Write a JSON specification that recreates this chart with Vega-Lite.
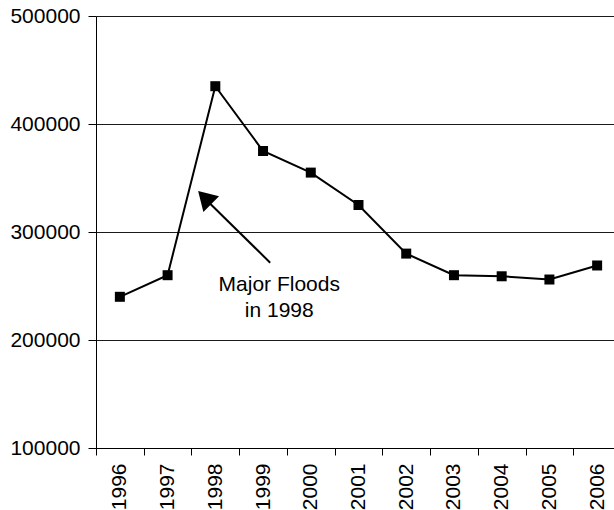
{
  "$schema": "https://vega.github.io/schema/vega-lite/v6.json",
  "autosize": {"type": "none"},
  "padding": {"left": 96, "top": 16, "right": 0, "bottom": 62},
  "width": 518,
  "height": 432,
  "background": "white",
  "config": {
    "view": {"stroke": null},
    "font": "Liberation Sans",
    "axis": {
      "labelFont": "Liberation Sans",
      "labelFontSize": 21,
      "labelColor": "#000",
      "domainColor": "#000",
      "domainWidth": 1,
      "tickColor": "#000",
      "tickWidth": 1
    }
  },
  "datasets": {
    "series": [
      {"year": "1996", "value": 240000},
      {"year": "1997", "value": 260000},
      {"year": "1998", "value": 435000},
      {"year": "1999", "value": 375000},
      {"year": "2000", "value": 355000},
      {"year": "2001", "value": 325000},
      {"year": "2002", "value": 280000},
      {"year": "2003", "value": 260000},
      {"year": "2004", "value": 259000},
      {"year": "2005", "value": 256000},
      {"year": "2006", "value": 269000}
    ],
    "arrowShaft": [
      {"x": 1999.15, "y": 271600, "x2": 1997.85, "y2": 328000}
    ],
    "arrowHead": [
      {"x": 1997.64, "y": 338000}
    ],
    "note": [
      {"label": "Major Floods", "x": 1999.34, "y": 245650},
      {"label": "in 1998", "x": 1999.34, "y": 221000}
    ]
  },
  "layer": [
    {
      "data": {"name": "series"},
      "encoding": {
        "x": {
          "field": "year",
          "type": "ordinal",
          "scale": {"type": "band", "range": [0, 525], "paddingInner": 0, "paddingOuter": 0},
          "axis": {
            "title": null,
            "labelAngle": -90,
            "labelAlign": "right",
            "labelBaseline": "middle",
            "labelPadding": 8,
            "tickBand": "extent",
            "tickSize": 7,
            "grid": false
          }
        },
        "y": {
          "field": "value",
          "type": "quantitative",
          "scale": {"domain": [100000, 500000], "nice": false, "zero": false},
          "axis": {
            "title": null,
            "values": [100000, 200000, 300000, 400000, 500000],
            "format": "d",
            "tickSize": 8,
            "labelPadding": 8,
            "grid": true,
            "gridColor": "#1a1a1a",
            "gridWidth": 1,
            "gridOpacity": 1
          }
        }
      },
      "layer": [
        {"mark": {"type": "line", "color": "#000", "strokeWidth": 2}},
        {"mark": {"type": "point", "shape": "square", "size": 100, "filled": true, "color": "#000", "opacity": 1}}
      ]
    },
    {
      "layer": [
        {
          "data": {"name": "arrowShaft"},
          "mark": {"type": "rule", "color": "#000", "strokeWidth": 2},
          "encoding": {
            "x": {"field": "x", "type": "quantitative", "scale": {"domain": [1995.5, 2006.5], "range": [0, 525], "nice": false, "zero": false}, "axis": null},
            "y": {"field": "y", "type": "quantitative"},
            "x2": {"field": "x2"},
            "y2": {"field": "y2"}
          }
        },
        {
          "data": {"name": "arrowHead"},
          "mark": {"type": "point", "shape": "M0,0L0.6,1L-0.6,1Z", "size": 1369, "angle": -45, "filled": true, "color": "#000", "opacity": 1},
          "encoding": {
            "x": {"field": "x", "type": "quantitative", "axis": null},
            "y": {"field": "y", "type": "quantitative"}
          }
        },
        {
          "data": {"name": "note"},
          "mark": {"type": "text", "font": "Liberation Sans", "fontSize": 21, "align": "center", "baseline": "alphabetic", "color": "#000"},
          "encoding": {
            "x": {"field": "x", "type": "quantitative", "axis": null},
            "y": {"field": "y", "type": "quantitative"},
            "text": {"field": "label"}
          }
        }
      ]
    }
  ],
  "resolve": {"scale": {"x": "independent"}, "axis": {"x": "independent"}}
}
